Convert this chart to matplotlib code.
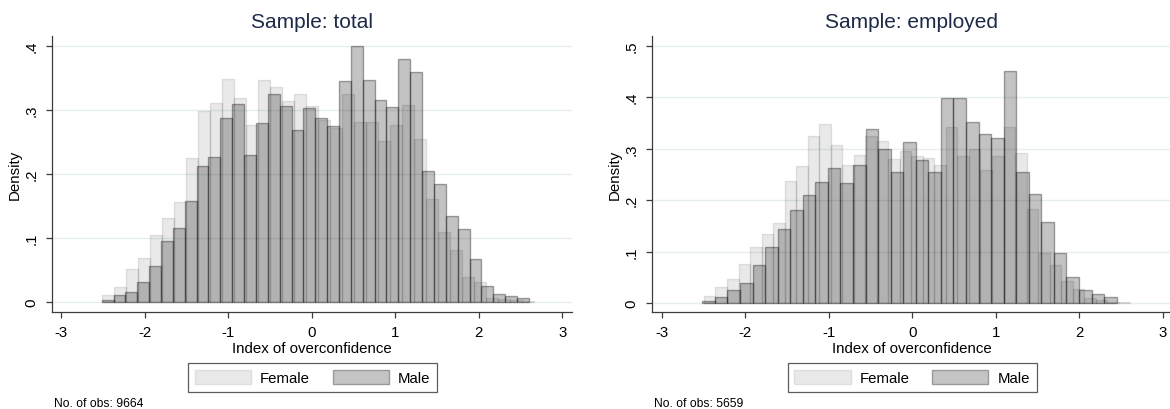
import numpy as np
import matplotlib
matplotlib.use("Agg")
import matplotlib.pyplot as plt
from matplotlib.patches import Patch

plt.rcParams['font.family'] = ['Liberation Sans', 'DejaVu Sans']

# ---------------- data ----------------
# Sample: total
female_total = [0.0115, 0.023, 0.051, 0.068, 0.105, 0.132, 0.156, 0.225, 0.299, 0.311,
                0.349, 0.318, 0.277, 0.347, 0.336, 0.314, 0.325, 0.307, 0.285, 0.272,
                0.3255, 0.282, 0.281, 0.251, 0.2766, 0.308, 0.254, 0.161, 0.110, 0.082,
                0.039, 0.031, 0.0057, 0.0047, 0.0026, 0.002]
female_total_start = -2.508
female_total_width = 0.1437

male_total = [0.003, 0.0104, 0.015, 0.031, 0.056, 0.096, 0.116, 0.158, 0.212, 0.227,
              0.288, 0.309, 0.230, 0.280, 0.3245, 0.307, 0.268, 0.303, 0.288, 0.2755,
              0.345, 0.400, 0.347, 0.316, 0.304, 0.380, 0.360, 0.205, 0.185, 0.135,
              0.1135, 0.067, 0.0245, 0.012, 0.0099, 0.0068]
male_total_start = -2.515
male_total_width = 0.1421

# Sample: employed
female_emp = [0.0136, 0.031, 0.047, 0.0764, 0.1095, 0.134, 0.155, 0.237, 0.267, 0.325,
              0.347, 0.3076, 0.269, 0.287, 0.3245, 0.315, 0.279, 0.295, 0.285, 0.282,
              0.269, 0.3426, 0.2856, 0.300, 0.258, 0.2856, 0.3426, 0.292, 0.182, 0.098,
              0.0745, 0.042, 0.027, 0.009, 0.0065, 0.0026, 0.0013]
female_emp_start = -2.495
female_emp_width = 0.138

male_emp = [0.0032, 0.011, 0.026, 0.0395, 0.0732, 0.1095, 0.143, 0.181, 0.2105, 0.236,
            0.262, 0.234, 0.2675, 0.339, 0.299, 0.255, 0.3128, 0.277, 0.255, 0.399,
            0.399, 0.351, 0.329, 0.320, 0.4514, 0.255, 0.212, 0.157, 0.097, 0.051,
            0.026, 0.0175, 0.011]
male_emp_start = -2.515
male_emp_width = 0.1504

titles = ["Sample: total", "Sample: employed"]
n_obs = [9664, 5659]
x_ticks = [-3, -2, -1, 0, 1, 2, 3]
y_ticks_total = [0, 0.1, 0.2, 0.3, 0.4]
y_ticks_emp = [0, 0.1, 0.2, 0.3, 0.4, 0.5]
legend_labels = ["Female", "Male"]

# ---------------- style ----------------
W, H = 1170, 410
DPI = 100
FEM_FACE = (0, 0, 0, 0.088)
FEM_EDGE = (0, 0, 0, 0.10)
MALE_FACE = (0, 0, 0, 0.235)
MALE_EDGE = (0, 0, 0, 0.34)
GRID = '#e6eef0'
AXC = '#3c3c3c'
TITLE_C = '#1c2a48'

fig = plt.figure(figsize=(W / DPI, H / DPI), dpi=DPI)


def px_axes(left, top, right, bottom):
    return fig.add_axes([left / W, 1 - bottom / H, (right - left) / W, (bottom - top) / H])


def fmt(v):
    if v == 0:
        return "0"
    return ("%.1f" % v).lstrip("0")


panels = [
    dict(box=(52, 37, 572, 313), xlim=(-3.110, 3.117), ylim=(-0.0156, 0.4156),
         fem=(female_total, female_total_start, female_total_width),
         male=(male_total, male_total_start, male_total_width),
         yt=y_ticks_total, title=titles[0], nobs=n_obs[0]),
    dict(box=(651.7, 36.7, 1171.7, 313.3), xlim=(-3.121, 3.107), ylim=(-0.0181, 0.5193),
         fem=(female_emp, female_emp_start, female_emp_width),
         male=(male_emp, male_emp_start, male_emp_width),
         yt=y_ticks_emp, title=titles[1], nobs=n_obs[1]),
]

for p in panels:
    l, t, r, b = p['box']
    ax = px_axes(l, t, r, b)
    ax.set_xlim(*p['xlim'])
    ax.set_ylim(*p['ylim'])
    ax.set_axisbelow(True)
    for s in ['top', 'right']:
        ax.spines[s].set_visible(False)
    for s in ['left', 'bottom']:
        ax.spines[s].set_color(AXC)
        ax.spines[s].set_linewidth(0.9)
    ax.yaxis.grid(True, color=GRID, lw=1.0)
    ax.set_yticks(p['yt'])
    ax.set_yticklabels([fmt(v) for v in p['yt']], rotation=90, va='center')
    ax.set_xticks(x_ticks)
    ax.set_xticklabels([str(v) for v in x_ticks])
    ax.tick_params(axis='both', colors=AXC, labelcolor='black', labelsize=10.8,
                   length=4.5, width=0.9, direction='out')
    ax.tick_params(axis='x', pad=5)
    ax.tick_params(axis='y', pad=5)

    vals, st, w = p['fem']
    edges = st + w * np.arange(len(vals) + 1)
    ax.bar(edges[:-1], vals, width=w, align='edge', color=FEM_FACE,
           edgecolor=FEM_EDGE, linewidth=1.0)
    vals, st, w = p['male']
    edges = st + w * np.arange(len(vals) + 1)
    ax.bar(edges[:-1], vals, width=w, align='edge', color=MALE_FACE,
           edgecolor=MALE_EDGE, linewidth=1.0)

    ax.set_ylabel("Density", fontsize=10.8, labelpad=2)
    ax.set_xlabel("Index of overconfidence", fontsize=10.8, labelpad=1)

    cx = (l + r) / 2
    fig.text(cx / W, 1 - 28 / H, p['title'], ha='center', va='baseline',
             fontsize=15, color=TITLE_C)

    handles = [Patch(facecolor='#e9e9e9', edgecolor='#dedede', lw=1),
               Patch(facecolor='#c4c4c4', edgecolor='#9a9a9a', lw=1)]
    leg = fig.legend(handles, legend_labels, loc='center',
                     bbox_to_anchor=((l + 260.5) / W, 1 - 378.5 / H), ncol=2,
                     fontsize=10.8, frameon=True, fancybox=False,
                     handlelength=3.75, handleheight=1.1, handletextpad=0.6,
                     columnspacing=1.5, borderpad=0.45, borderaxespad=0)
    leg.get_frame().set_edgecolor('#333333')
    leg.get_frame().set_linewidth(0.9)

    fig.text((l + 2.5) / W, 1 - 404 / H, "No. of obs: %d" % p['nobs'],
             ha='left', va='center', fontsize=8.7, color='black')

fig.savefig("out.png", dpi=DPI)
